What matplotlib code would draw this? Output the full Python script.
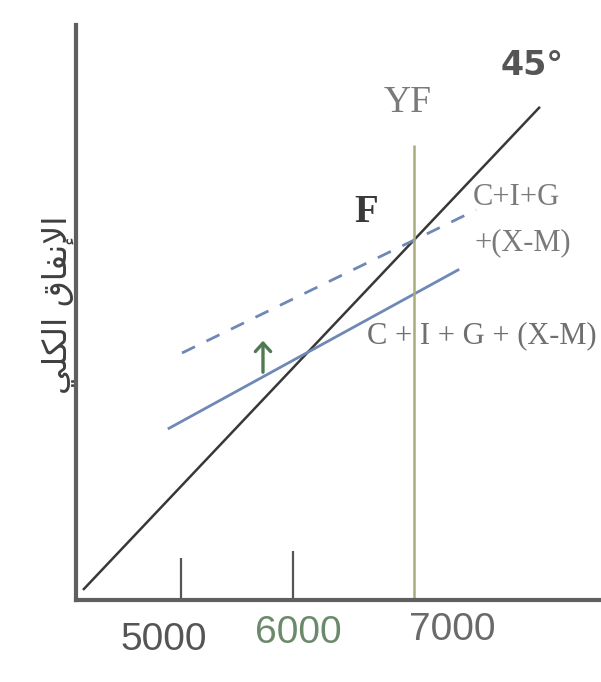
import matplotlib
matplotlib.use("Agg")
import matplotlib.pyplot as plt

# ---- data (income / expenditure units) ----
line45_x = [4125, 8205]
line45_y = [4125, 8205]
ae_x = [4893, 7473]            # C + I + G + (X-M)
ae_y = [5490, 6827]
ae_new_x = [5009, 7634]        # shifted C+I+G+(X-M)
ae_new_y = [6126, 7334]
yf_value = 7080
yf_top = 7883
tick_values = [5000, 6000]
tick_tops = [4395, 4454]
tick_labels = ["5000", "6000", "7000"]
tick_label_x = [4848, 6045, 7420]
tick_label_y = [3702, 3761, 3787]
tick_label_colors = ["#555555", "#6b8a6b", "#6a6a6a"]
arrow_x = 5732
arrow_y = [5940, 6253]
# "الإنفاق الكلي" written in visual order with presentation forms
ylabel_text = "\ufef2\ufee0\ufedc\ufedf\ufe8d \ufed5\ufe8e\ufed4\ufee7\ufef9\ufe8d"

fig = plt.figure(figsize=(6.01, 6.82), dpi=100)
ax = fig.add_axes([76/601, 82/682, 525/601, 575/682])
ax.set_xlim(4062.5, 8750)
ax.set_ylim(4040, 8896)

for s in ["top", "right"]:
    ax.spines[s].set_visible(False)
for s in ["left", "bottom"]:
    ax.spines[s].set_color("#5f5f5f")
    ax.spines[s].set_linewidth(3)
ax.set_xticks([])
ax.set_yticks([])

# 45 degree line
ax.plot(line45_x, line45_y, color="#383838", lw=1.8, solid_capstyle="butt")
# aggregate expenditure lines
ax.plot(ae_x, ae_y, color="#6f88b5", lw=2.0)
ax.plot(ae_new_x, ae_new_y, color="#6f88b5", lw=2.0, linestyle=(0, (5.2, 4.6)))
# full employment line
ax.vlines(yf_value, 4040, yf_top, color="#a9ab7c", lw=1.8)
# tick marks
ax.vlines(tick_values, 4040, tick_tops, color="#555555", lw=1.6)

# arrow
ax.annotate("", xy=(arrow_x, arrow_y[1]), xytext=(arrow_x, arrow_y[0]),
            arrowprops=dict(arrowstyle="->,head_length=0.6,head_width=0.55",
                            color="#4f7a52", lw=2.4))

# labels
ax.text(8134, 8550, "45°", fontsize=24, fontweight="bold", color="#555555",
        family="DejaVu Sans", ha="center", va="center")
ax.text(7027, 8238, "YF", fontsize=27, color="#7a7a7a",
        family="Liberation Serif", ha="center", va="center")
ax.text(6652, 7309, "F", fontsize=28, fontweight="bold", color="#3a3a3a",
        family="Liberation Serif", ha="center", va="center")
ax.text(7607, 7435, "C+I+G", fontsize=22, color="#7a7a7a",
        family="Liberation Serif", ha="left", va="center")
ax.text(7625, 7055, "+(X-M)", fontsize=22, color="#7a7a7a",
        family="Liberation Serif", ha="left", va="center")
ax.text(6661, 6270, "C + I + G + (X-M)", fontsize=22, color="#6f6f6f",
        family="Liberation Serif", ha="left", va="center", clip_on=False)

for lbl, x, y, c in zip(tick_labels, tick_label_x, tick_label_y, tick_label_colors):
    ax.text(x, y, lbl, fontsize=28, color=c, family="Liberation Sans",
            ha="center", va="center", clip_on=False)

ax.text(3902, 6532, ylabel_text, fontsize=24, color="#3f3f3f",
        family="DejaVu Sans", rotation=90, ha="center", va="center", clip_on=False)

fig.savefig("out.png", dpi=100)
